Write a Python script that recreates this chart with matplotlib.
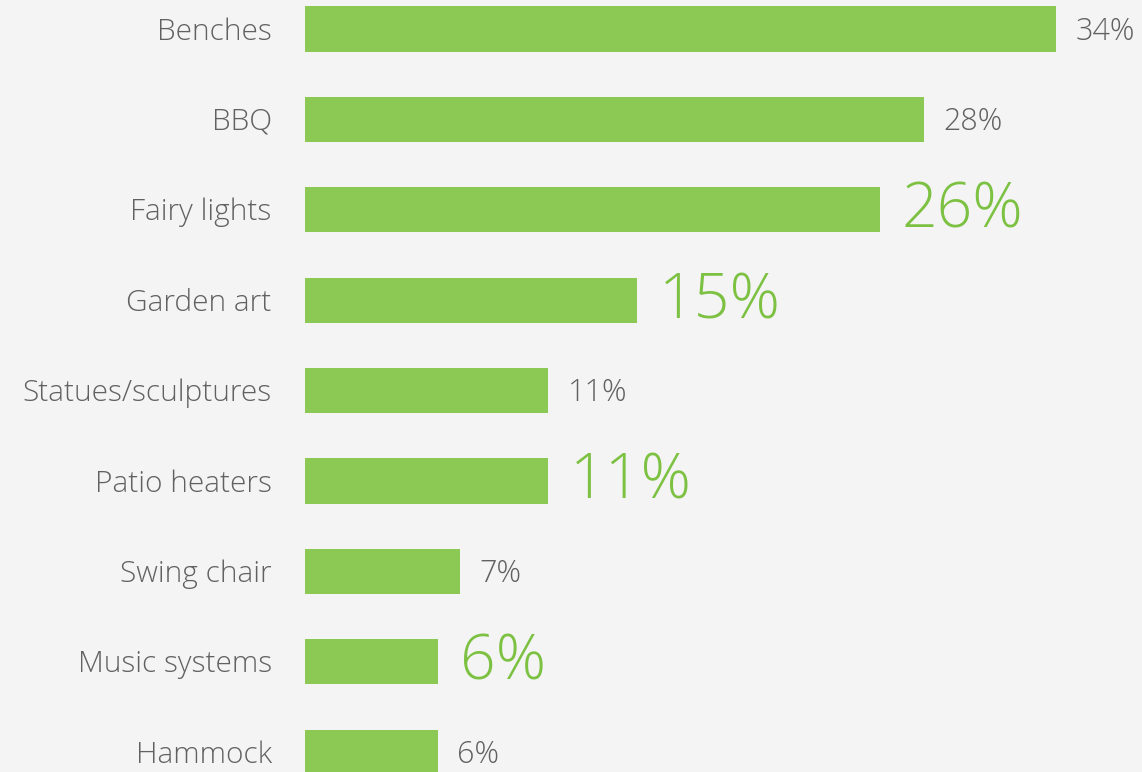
import matplotlib
matplotlib.use("Agg")
from matplotlib import pyplot as plt

# Garden features survey results (percent of respondents)
features = ["Benches", "BBQ", "Fairy lights", "Garden art", "Statues/sculptures",
            "Patio heaters", "Swing chair", "Music systems", "Hammock"]
shares = [34, 28, 26, 15, 11, 11, 7, 6, 6]
highlighted = [False, False, True, True, False, True, False, True, False]

bg = "#f4f4f4"
bar_color = "#8bc954"
green_text = "#7cc142"
grey_text = "#616161"

plt.rcParams["font.family"] = ["Open Sans", "DejaVu Sans"]

fig = plt.figure(figsize=(11.42, 7.72), dpi=100, facecolor=bg)
ax = fig.add_axes([0, 0, 1, 1], facecolor=bg)

ypos = list(range(len(features)))
ax.barh(ypos, shares, height=0.5, color=bar_color, left=0)

for y, name in zip(ypos, features):
    ax.annotate(name, (0, y), xytext=(-24, -2), textcoords="offset points",
                ha="right", va="center", fontsize=21.5, color=grey_text,
                fontweight="light")

for y, val, big in zip(ypos, shares, highlighted):
    if big:
        ax.annotate(f"{val}%", (val, y), xytext=(16, -1), textcoords="offset points",
                    ha="left", va="center", fontsize=45, color=green_text,
                    fontweight="light")
    else:
        ax.annotate(f"{val}%", (val, y), xytext=(14, -2), textcoords="offset points",
                    ha="left", va="center", fontsize=22, color=grey_text,
                    fontweight="light")

px_per_unit = 22.1
ax.set_xlim(-305 / px_per_unit, (1142 - 305) / px_per_unit)
ax.set_ylim((772 - 29) / 90.4, -29 / 90.4)
ax.axis("off")

fig.savefig("out.png", dpi=100, facecolor=bg)
